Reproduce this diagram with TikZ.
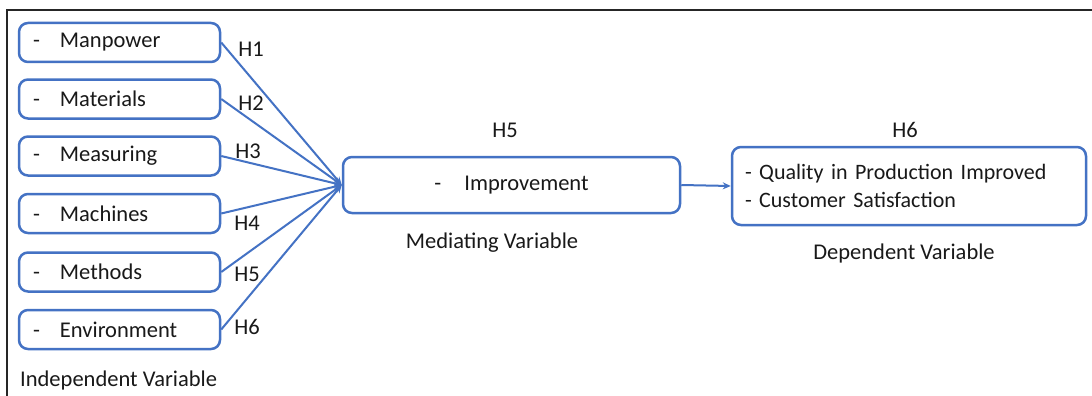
\documentclass[tikz,border=0pt]{standalone}
\usepackage{fontspec}
\setmainfont{Carlito}
\usetikzlibrary{arrows.meta}
\definecolor{boxblue}{RGB}{68,114,196}
\definecolor{txt}{RGB}{25,25,25}
\begin{document}
\begin{tikzpicture}[x=1pt,y=-1pt,
  every node/.style={font=\fontsize{22.5}{28}\selectfont, text=txt},
  box/.style={draw=boxblue, line width=2.5pt, rounded corners=9pt, inner sep=0pt},
  ivbox/.style={box, minimum width=201pt, minimum height=39pt, text width=173pt, inner xsep=14pt, align=left},
  conn/.style={draw=boxblue, line width=2pt, -{Stealth[length=8pt,width=7pt]}},
  hlab/.style={inner sep=0pt},
  frame/.style={draw=black!85, line width=1.4pt}]
\useasboundingbox (0,0) rectangle (1092,396);
\fill[white] (0,0) rectangle (1092,396);
\draw[frame] (7,396) -- (7,10) -- (1092,10);

\node[ivbox] (man) at (119.5,42.5) {\makebox[27pt][l]{-}Manpower};
\node[ivbox] (mat) at (119.5,99) {\makebox[27pt][l]{-}Materials};
\node[ivbox] (mea) at (119.5,156) {\makebox[27pt][l]{-}Measuring};
\node[ivbox] (mac) at (119.5,213.5) {\makebox[27pt][l]{-}Machines};
\node[ivbox] (met) at (119.5,272) {\makebox[27pt][l]{-}Methods};
\node[ivbox] (env) at (119.5,329.5) {\makebox[27pt][l]{-}Environment};

\node[box, minimum width=337pt, minimum height=56pt] (imp) at (511.5,185) {\makebox[30pt][l]{-}Improvement};
\node[box, minimum width=354pt, minimum height=78pt, text width=328pt, inner xsep=13pt, align=left] (dep) at (909,186)
  {\fontsize{22}{28}\selectfont - Quality in Production Improved\\- Customer Satisfaction};

\draw[conn] (man.east) -- (imp.west);
\draw[conn] (mat.east) -- (imp.west);
\draw[conn] (mea.east) -- (imp.west);
\draw[conn] (mac.east) -- (imp.west);
\draw[conn] (met.east) -- (imp.west);
\draw[conn] (env.east) -- (imp.west);
\draw[conn] (imp.east) -- (dep.west);

\node[hlab] (h1) at (251,49) {H1};
\node[hlab] (h2) at (251,103) {H2};
\node[hlab] (h3) at (248,151) {H3};
\node[hlab] (h4) at (247,223) {H4};
\node[hlab] (h5) at (247,274) {H5};
\node[hlab] (h6) at (247,327) {H6};
\node[hlab] (h5m) at (505,130) {H5};
\node[hlab] (h6d) at (905,130) {H6};

\node[hlab] (medl) at (492,243) {Mediating Variable};
\node[hlab] (depl) at (904,253) {Dependent Variable};
\node[hlab, anchor=west] (indl) at (20,380) {Independent Variable};
\end{tikzpicture}
\end{document}
